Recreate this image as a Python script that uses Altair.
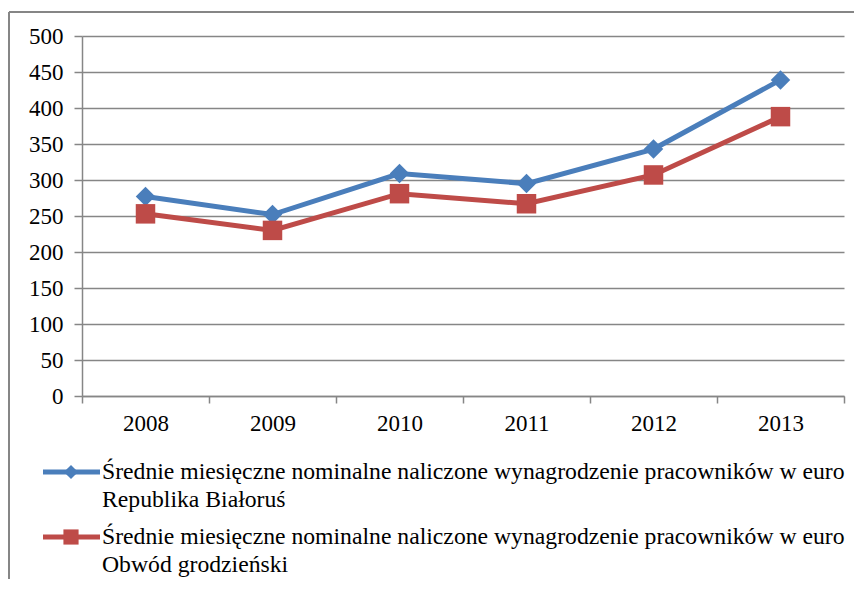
import altair as alt
import pandas as pd

years = [2008, 2009, 2010, 2011, 2012, 2013]
belarus = [277, 252, 309, 295, 343, 439]
grodno = [253, 230, 281, 267, 307, 388]
series_names = ["Republika Białoruś", "Obwód grodzieński"]
measure = "Średnie miesięczne nominalne naliczone wynagrodzenie pracowników w euro"
colors = ["#4A7EBB", "#BE4B48"]
shapes = ["diamond", "square"]
y_ticks = list(range(0, 501, 50))
x_ticks = [2007.5, 2008, 2008.5, 2009, 2009.5, 2010, 2010.5, 2011, 2011.5,
           2012, 2012.5, 2013, 2013.5]

rows = []
for name, vals in zip(series_names, [belarus, grodno]):
    for yr, v in zip(years, vals):
        rows.append({"year": yr, "value": v, "series": name})
df = pd.DataFrame(rows)

W, H = 762, 360
FONT = "'Liberation Serif', 'DejaVu Serif', 'Times New Roman', serif"
GRID = "#868686"

x_enc = alt.X(
    "year:Q",
    scale=alt.Scale(domain=[2007.5, 2013.5], nice=False, zero=False),
    axis=alt.Axis(
        values=x_ticks, title=None, grid=False,
        labelExpr="datum.value % 1 == 0 ? format(datum.value, 'd') : ''",
        labelOverlap=False,
        tickOpacity={"condition": {"test": "datum.value % 1 == 0", "value": 0}, "value": 1},
        tickSize=7, tickColor=GRID, tickWidth=1.5,
        domainColor=GRID, domainWidth=1.5,
        labelFont=FONT, labelFontSize=23, labelColor="#000", labelPadding=9,
        labelBaseline="top",
    ),
)
y_enc = alt.Y(
    "value:Q",
    scale=alt.Scale(domain=[0, 500], nice=False),
    axis=alt.Axis(
        values=y_ticks, title=None, grid=True, gridColor=GRID, gridWidth=1.5,
        tickSize=8, tickColor=GRID, tickWidth=1.5,
        domainColor=GRID, domainWidth=1.5,
        labelFont=FONT, labelFontSize=23, labelColor="#000", labelPadding=11,
    ),
)
color_enc = alt.Color("series:N", scale=alt.Scale(domain=series_names, range=colors), legend=None)
shape_enc = alt.Shape("series:N", scale=alt.Scale(domain=series_names, range=shapes), legend=None)

base = alt.Chart(df)
lines = base.mark_line(strokeWidth=5).encode(x=x_enc, y=y_enc, color=color_enc)
points = base.mark_point(filled=True, size=380, opacity=1).encode(
    x=x_enc, y=y_enc, color=color_enc, shape=shape_enc
)

# frame (chart border)
frame_top = alt.Chart(df).mark_rule(color=GRID, strokeWidth=1.5).encode(
    x=alt.value(-73), x2=alt.value(W + 30), y=alt.value(-24)
)
frame_left = alt.Chart(df).mark_rule(color=GRID, strokeWidth=1.5).encode(
    x=alt.value(-73), y=alt.value(-24), y2=alt.value(H + 200)
)

# legend
legend_layers = []
leg_y = [436, 501]
for i, name in enumerate(series_names):
    ld = pd.DataFrame({"series": [name], "label": [measure + "\n" + name]})
    lc = alt.Chart(ld)
    legend_layers.append(
        lc.mark_rule(strokeWidth=5, color=colors[i]).encode(
            x=alt.value(-39), x2=alt.value(18), y=alt.value(leg_y[i])
        )
    )
    legend_layers.append(
        lc.mark_point(filled=True, opacity=1, size=200 if i == 0 else 230,
                      shape=shapes[i], color=colors[i]).encode(
            x=alt.value(-11), y=alt.value(leg_y[i])
        )
    )
    legend_layers.append(
        lc.mark_text(font=FONT, fontSize=23.7, align="left", baseline="middle",
                     lineBreak="\n", lineHeight=28, color="#000").encode(
            x=alt.value(20), y=alt.value(leg_y[i]), text="label:N"
        )
    )

chart = alt.layer(frame_top, frame_left, lines, points, *legend_layers).properties(
    width=W, height=H,
    autosize=alt.AutoSizeParams(type="none"),
    padding={"left": 74, "top": 28, "right": 10, "bottom": 183},
).configure_view(stroke=None)

chart.save("out.html", embed_options={"renderer": "svg", "actions": False})
